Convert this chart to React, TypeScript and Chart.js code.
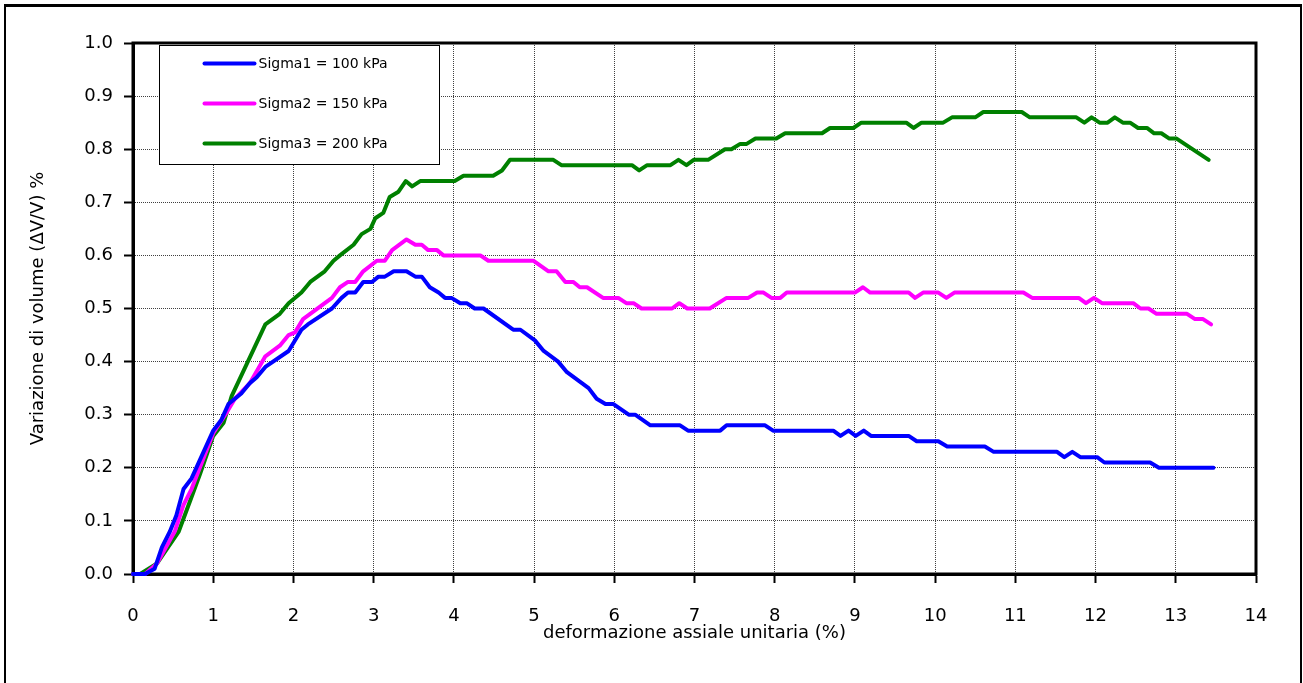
import React, { useEffect, useRef } from "react";
import { Chart, registerables } from "chart.js";

Chart.register(...registerables);

// ---- Data ----
const seriesLabels = ["Sigma1 = 100 kPa", "Sigma2 = 150 kPa", "Sigma3 = 200 kPa"];
const seriesColors = ["#0000FF", "#FF00FF", "#008000"];

const sigma1Strain = [0, 0.15, 0.27, 0.36, 0.46, 0.54, 0.63, 0.73, 1.0, 1.1, 1.19, 1.35, 1.46, 1.54, 1.65, 1.94, 2.1, 2.18, 2.48, 2.6, 2.68, 2.77, 2.87, 2.98, 3.06, 3.14, 3.25, 3.41, 3.52, 3.6, 3.7, 3.81, 3.89, 3.97, 4.08, 4.16, 4.26, 4.37, 4.74, 4.83, 5.01, 5.12, 5.3, 5.41, 5.68, 5.78, 5.89, 5.99, 6.18, 6.26, 6.45, 6.82, 6.92, 7.32, 7.4, 7.88, 7.98, 8.73, 8.82, 8.92, 9.01, 9.11, 9.2, 9.67, 9.77, 10.04, 10.15, 10.62, 10.73, 11.52, 11.61, 11.71, 11.81, 12.02, 12.11, 12.68, 12.79, 13.47];
const sigma1Volume = [0, 0, 0.01, 0.05, 0.08, 0.11, 0.16, 0.18, 0.27, 0.29, 0.32, 0.34, 0.36, 0.37, 0.39, 0.42, 0.46, 0.47, 0.5, 0.52, 0.53, 0.53, 0.55, 0.55, 0.56, 0.56, 0.57, 0.57, 0.56, 0.56, 0.54, 0.53, 0.52, 0.52, 0.51, 0.51, 0.5, 0.5, 0.46, 0.46, 0.44, 0.42, 0.4, 0.38, 0.35, 0.33, 0.32, 0.32, 0.3, 0.3, 0.28, 0.28, 0.27, 0.27, 0.28, 0.28, 0.27, 0.27, 0.26, 0.27, 0.26, 0.27, 0.26, 0.26, 0.25, 0.25, 0.24, 0.24, 0.23, 0.23, 0.22, 0.23, 0.22, 0.22, 0.21, 0.21, 0.2, 0.2];

const sigma2Strain = [0, 0.15, 0.3, 0.52, 0.63, 0.73, 1.0, 1.15, 1.27, 1.46, 1.65, 1.83, 1.94, 2.02, 2.12, 2.48, 2.58, 2.68, 2.77, 2.87, 3.04, 3.14, 3.23, 3.41, 3.52, 3.6, 3.68, 3.79, 3.87, 4.33, 4.43, 4.99, 5.18, 5.28, 5.39, 5.49, 5.57, 5.66, 5.86, 6.05, 6.15, 6.24, 6.34, 6.72, 6.81, 6.91, 7.19, 7.4, 7.67, 7.78, 7.86, 7.96, 8.07, 8.15, 9.0, 9.1, 9.19, 9.67, 9.75, 9.85, 10.04, 10.14, 10.24, 11.1, 11.21, 11.79, 11.88, 11.98, 12.08, 12.47, 12.56, 12.66, 12.76, 13.14, 13.24, 13.34, 13.44];
const sigma2Volume = [0, 0, 0.02, 0.08, 0.13, 0.16, 0.265, 0.3, 0.33, 0.36, 0.41, 0.43, 0.45, 0.455, 0.48, 0.52, 0.54, 0.55, 0.55, 0.57, 0.59, 0.59, 0.61, 0.63, 0.62, 0.62, 0.61, 0.61, 0.6, 0.6, 0.59, 0.59, 0.57, 0.57, 0.55, 0.55, 0.54, 0.54, 0.52, 0.52, 0.51, 0.51, 0.5, 0.5, 0.51, 0.5, 0.5, 0.52, 0.52, 0.53, 0.53, 0.52, 0.52, 0.53, 0.53, 0.54, 0.53, 0.53, 0.52, 0.53, 0.53, 0.52, 0.53, 0.53, 0.52, 0.52, 0.51, 0.52, 0.51, 0.51, 0.5, 0.5, 0.49, 0.49, 0.48, 0.48, 0.47];

const sigma3Strain = [0, 0.09, 0.3, 0.57, 0.73, 0.84, 1.0, 1.13, 1.23, 1.65, 1.83, 1.94, 2.1, 2.21, 2.39, 2.5, 2.58, 2.75, 2.85, 2.96, 3.02, 3.12, 3.2, 3.31, 3.4, 3.48, 3.58, 4.01, 4.12, 4.49, 4.6, 4.7, 5.24, 5.34, 6.22, 6.31, 6.41, 6.7, 6.8, 6.9, 6.99, 7.17, 7.38, 7.46, 7.57, 7.65, 7.76, 8.02, 8.13, 8.59, 8.69, 8.98, 9.08, 9.64, 9.73, 9.83, 10.1, 10.21, 10.5, 10.6, 11.08, 11.18, 11.76, 11.86, 11.95, 12.05, 12.15, 12.24, 12.34, 12.43, 12.53, 12.64, 12.73, 12.82, 12.92, 13.01, 13.41];
const sigma3Volume = [0, 0, 0.02, 0.08, 0.145, 0.19, 0.26, 0.285, 0.335, 0.47, 0.49, 0.51, 0.53, 0.55, 0.57, 0.59, 0.6, 0.62, 0.64, 0.65, 0.67, 0.68, 0.71, 0.72, 0.74, 0.73, 0.74, 0.74, 0.75, 0.75, 0.76, 0.78, 0.78, 0.77, 0.77, 0.76, 0.77, 0.77, 0.78, 0.77, 0.78, 0.78, 0.8, 0.8, 0.81, 0.81, 0.82, 0.82, 0.83, 0.83, 0.84, 0.84, 0.85, 0.85, 0.84, 0.85, 0.85, 0.86, 0.86, 0.87, 0.87, 0.86, 0.86, 0.85, 0.86, 0.85, 0.85, 0.86, 0.85, 0.85, 0.84, 0.84, 0.83, 0.83, 0.82, 0.82, 0.78];

const xTitle = "deformazione assiale unitaria (%)";
const yTitle = "Variazione di volume (\u0394V/V) %";
const xMin = 0, xMax = 14, xStep = 1;
const yMin = 0, yMax = 1, yStep = 0.1;

const FONT = "'DejaVu Sans', sans-serif";

const toPoints = (xs: number[], ys: number[]) => xs.map((x, i) => ({ x, y: ys[i] }));

const frameLegendPlugin = {
  id: "frameLegend",
  beforeDatasetsDraw(chart: any) {
    const { ctx, chartArea: a } = chart;
    ctx.save();
    ctx.strokeStyle = "#000";
    ctx.lineWidth = 3;
    ctx.strokeRect(a.left, a.top, a.right - a.left, a.bottom - a.top);
    ctx.restore();
  },
  afterDatasetsDraw(chart: any) {
    const { ctx, chartArea: a } = chart;
    ctx.save();
    const bx = Math.round(a.left + 26) + 0.5;
    const by = Math.round(a.top + 2) + 0.5;
    const bw = 280;
    const bh = 119;
    ctx.fillStyle = "#fff";
    ctx.fillRect(bx, by, bw, bh);
    ctx.strokeStyle = "#000";
    ctx.lineWidth = 1;
    ctx.strokeRect(bx, by, bw, bh);
    chart.data.datasets.forEach((ds: any, i: number) => {
      const y = by + 18 + 40 * i;
      ctx.strokeStyle = ds.borderColor;
      ctx.lineWidth = 4;
      ctx.lineCap = "round";
      ctx.beginPath();
      ctx.moveTo(bx + 45, y);
      ctx.lineTo(bx + 95, y);
      ctx.stroke();
      ctx.fillStyle = "#000";
      ctx.font = `14px ${FONT}`;
      ctx.textAlign = "left";
      ctx.textBaseline = "middle";
      ctx.fillText(ds.label, bx + 99, y + 1);
    });
    ctx.restore();
  },
};

export default function App() {
  const canvasRef = useRef<HTMLCanvasElement | null>(null);

  useEffect(() => {
    const canvas = canvasRef.current;
    if (!canvas) return;
    const xs = [sigma1Strain, sigma2Strain, sigma3Strain];
    const ys = [sigma1Volume, sigma2Volume, sigma3Volume];
    const chart = new Chart(canvas, {
      type: "line",
      data: {
        datasets: seriesLabels.map((label, i) => ({
          label,
          data: toPoints(xs[i], ys[i]),
          borderColor: seriesColors[i],
          backgroundColor: seriesColors[i],
          borderWidth: 4,
          pointRadius: 0,
          tension: 0,
          borderJoinStyle: "round" as const,
          borderCapStyle: "round" as const,
          clip: false as any,
        })),
      },
      options: {
        animation: false,
        responsive: false,
        layout: { padding: { top: 43, right: 47, left: 0, bottom: 0 } },
        plugins: { legend: { display: false }, tooltip: { enabled: false } },
        scales: {
          x: {
            type: "linear",
            min: xMin,
            max: xMax,
            afterFit: (s: any) => {
              s.height = 109;
            },
            ticks: {
              stepSize: xStep,
              color: "#000",
              padding: 23,
              font: { family: FONT, size: 18 },
              callback: (v: any) => String(v),
            },
            grid: {
              color: "rgba(0,0,0,0.75)",
              lineWidth: 1,
              tickColor: "#000",
              tickWidth: 2,
              tickLength: 9,
              tickBorderDash: [],
            },
            border: { display: true, color: "#000", width: 3, dash: [1, 1] },
            title: {
              display: true,
              text: xTitle,
              color: "#000",
              font: { family: FONT, size: 18 },
              padding: { top: 0, bottom: 39 },
            },
          },
          y: {
            type: "linear",
            min: yMin,
            max: yMax,
            afterFit: (s: any) => {
              s.width = 133;
            },
            ticks: {
              stepSize: yStep,
              color: "#000",
              padding: 11,
              font: { family: FONT, size: 18 },
              callback: (v: any) => Number(v).toFixed(1),
            },
            grid: {
              color: "rgba(0,0,0,0.75)",
              lineWidth: 1,
              tickColor: "#000",
              tickWidth: 2,
              tickLength: 9,
              tickBorderDash: [],
            },
            border: { display: true, color: "#000", width: 3, dash: [1, 1] },
            title: {
              display: true,
              text: yTitle,
              color: "#000",
              font: { family: FONT, size: 18 },
              padding: { top: 28, bottom: 0 },
            },
          },
        },
      },
      plugins: [frameLegendPlugin],
    });
    return () => chart.destroy();
  }, []);

  return (
    <div
      style={{
        position: "fixed",
        left: 0,
        top: 0,
        width: 1303,
        height: 683,
        overflow: "hidden",
        background: "#fff",
      }}
    >
      <canvas ref={canvasRef} width={1303} height={683} style={{ position: "absolute", left: 0, top: 0 }} />
      <div
        style={{
          position: "absolute",
          left: 4,
          top: 4,
          width: 1298,
          height: 1000,
          boxSizing: "border-box",
          borderStyle: "solid",
          borderColor: "#000",
          borderWidth: "3px 2px 2px 2px",
          pointerEvents: "none",
        }}
      />
    </div>
  );
}
